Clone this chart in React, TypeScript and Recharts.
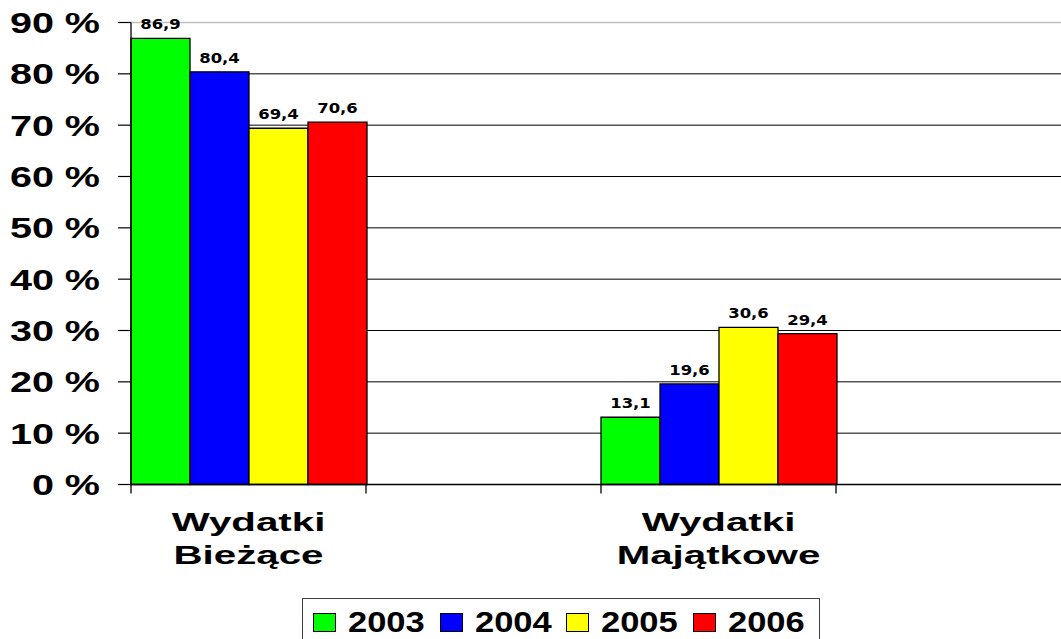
import React from "react";
import { BarChart, Bar, XAxis, YAxis, CartesianGrid, Legend, LabelList } from "recharts";

// categories, the empty ones only keep the space to the right of each group
const CATEGORIES = ["Wydatki Bieżące", "", "Wydatki Majątkowe", ""];
const YEARS = ["2003", "2004", "2005", "2006"];
const COLORS = ["#00ff00", "#0000ff", "#ffff00", "#ff0000"];

const VALUES_2003 = [86.9, null, 13.1, null];
const VALUES_2004 = [80.4, null, 19.6, null];
const VALUES_2005 = [69.4, null, 30.6, null];
const VALUES_2006 = [70.6, null, 29.4, null];

const Y_TICKS = [0, 10, 20, 30, 40, 50, 60, 70, 80, 90];

const SERIES_VALUES = [VALUES_2003, VALUES_2004, VALUES_2005, VALUES_2006];

const data = CATEGORIES.map((label, i) => {
  const row: Record<string, string | number | null> = { key: `c${i}`, label };
  YEARS.forEach((year, s) => {
    row[year] = SERIES_VALUES[s][i];
  });
  return row;
});

const CHART_W = 1071;
const CHART_H = 639;
const Y_AXIS_W = 131;
const X_AXIS_H = 60;
const MARGIN = { top: 22.5, right: 0, bottom: 94.5, left: 0 };
const BAND = (CHART_W - Y_AXIS_W - MARGIN.left - MARGIN.right) / CATEGORIES.length;

const ARIAL = "'Liberation Sans', Arial, sans-serif";
const VERDANA = "'DejaVu Sans', Verdana, sans-serif";

function PercentTick({ x, y, payload }: any) {
  return (
    <text
      transform={`translate(${x} ${y}) scale(1.34 1)`}
      textAnchor="end"
      dy="0.36em"
      fontFamily={ARIAL}
      fontWeight="bold"
      fontSize={29.5}
      fill="#000"
    >
      {`${payload.value} %`}
    </text>
  );
}

function CategoryTick({ x, y, payload, index }: any) {
  const row = data.find((d) => d.key === payload.value);
  const words = row && row.label ? String(row.label).split(" ") : [];
  const isLast = index === CATEGORIES.length - 1;
  return (
    <g>
      <line x1={x - BAND / 2} x2={x - BAND / 2} y1={y} y2={y + 9} stroke="#000" strokeWidth={1.3} />
      {isLast && <line x1={x + BAND / 2} x2={x + BAND / 2} y1={y} y2={y + 9} stroke="#000" strokeWidth={1.3} />}
      {words.map((w, i) => (
        <text
          key={w}
          transform={`translate(${x} ${y + 46 + i * 33.5}) scale(1.58 1)`}
          textAnchor="middle"
          fontFamily={ARIAL}
          fontWeight="bold"
          fontSize={25.5}
          fill="#000"
        >
          {w}
        </text>
      ))}
    </g>
  );
}

function renderValueLabel(props: any) {
  const { value } = props;
  if (value == null) return null;
  const box = props.viewBox ?? props;
  const cx = box.x + box.width / 2;
  return (
    <text
      transform={`translate(${cx} ${box.y - 9}) scale(1.22 1)`}
      textAnchor="middle"
      fontFamily={VERDANA}
      fontWeight="bold"
      fontSize={13.5}
      fill="#000"
    >
      {String(value).replace(".", ",")}
    </text>
  );
}

function gridLine(p: any) {
  const top = Math.abs(p.y1 - MARGIN.top) < 1;
  return (
    <line
      key={`grid-${p.index}`}
      x1={p.x1}
      x2={p.x2}
      y1={p.y1}
      y2={p.y2}
      stroke={top ? "#c0c0c0" : "#000"}
      strokeWidth={top ? 1.5 : 1}
    />
  );
}

function LegendBox() {
  return (
    <div
      style={{
        boxSizing: "border-box",
        width: 518,
        height: 50,
        border: "1.5px solid #404040",
        background: "#fff",
        display: "flex",
        paddingTop: 8,
        paddingLeft: 10,
      }}
    >
      {YEARS.map((year, i) => (
        <div key={year} style={{ display: "flex", alignItems: "center", width: 128.4, height: 30 }}>
          <span
            style={{
              boxSizing: "border-box",
              width: 23,
              height: 19,
              background: COLORS[i],
              border: "1px solid #000",
              flex: "none",
            }}
          />
          <span
            style={{
              marginLeft: 12,
              fontFamily: ARIAL,
              fontWeight: "bold",
              fontSize: 30,
              lineHeight: "30px",
              color: "#000",
              display: "inline-block",
              transform: "scaleX(1.15)",
              transformOrigin: "left center",
            }}
          >
            {year}
          </span>
        </div>
      ))}
    </div>
  );
}

export default function App() {
  return (
    <div
      style={{
        position: "absolute",
        left: 0,
        top: 0,
        width: 1061,
        height: 639,
        overflow: "hidden",
        background: "#fff",
        fontFamily: ARIAL,
      }}
    >
      <BarChart
        width={CHART_W}
        height={CHART_H}
        data={data}
        margin={MARGIN}
        barCategoryGap={0}
        barGap={0}
      >
        <CartesianGrid vertical={false} horizontal={gridLine} />
        <XAxis
          dataKey="key"
          height={X_AXIS_H}
          interval={0}
          tickLine={false}
          tickSize={0}
          tickMargin={0}
          axisLine={{ stroke: "#000", strokeWidth: 1.3 }}
          tick={<CategoryTick />}
        />
        <YAxis
          width={Y_AXIS_W}
          domain={[0, 90]}
          ticks={Y_TICKS}
          interval={0}
          tickSize={13}
          tickMargin={18}
          axisLine={{ stroke: "#000", strokeWidth: 1.3 }}
          tickLine={{ stroke: "#000", strokeWidth: 1.2 }}
          tick={<PercentTick />}
        />
        {YEARS.map((year, i) => (
          <Bar
            key={year}
            dataKey={year}
            fill={COLORS[i]}
            stroke="#000"
            strokeWidth={1.3}
            isAnimationActive={false}
          >
            <LabelList dataKey={year} content={renderValueLabel} />
          </Bar>
        ))}
        <Legend
          layout="horizontal"
          verticalAlign="middle"
          align="center"
          wrapperStyle={{ left: 302, top: 598, width: 518, height: 50 }}
          content={() => <LegendBox />}
        />
      </BarChart>
    </div>
  );
}
